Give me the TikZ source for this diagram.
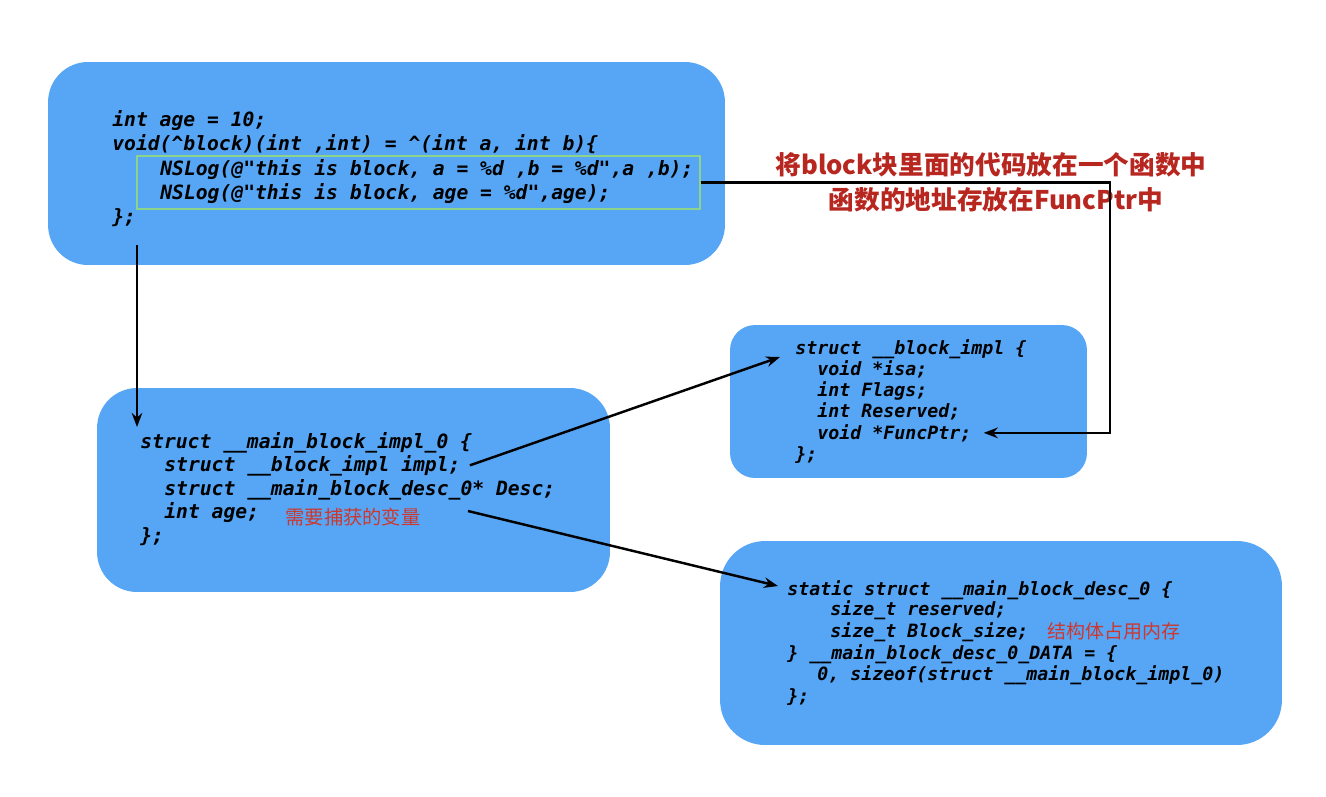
\documentclass[tikz,border=0pt]{standalone}
\usepackage{fontspec}
\usepackage{tikz}
\usetikzlibrary{arrows.meta}

\newfontfamily\codefont{DejaVu Sans Mono Bold Oblique}
\newfontfamily\cjk{Noto Sans CJK SC}

\definecolor{boxblue}{RGB}{86,166,245}
\definecolor{framegreen}{RGB}{140,212,140}
\definecolor{titlered}{RGB}{184,38,32}
\definecolor{notered}{RGB}{205,55,45}

\tikzset{
  blockbox/.style={fill=boxblue, inner sep=0pt},
  code/.style={anchor=base west, inner sep=0pt, font=\codefont\fontsize{11.2}{13}\selectfont},
  smallcode/.style={code, font=\codefont\fontsize{10.4}{12}\selectfont},
  title/.style={text=titlered, font=\cjk\bfseries\fontsize{14.6}{17}\selectfont},
  note/.style={anchor=base west, inner sep=0pt, text=notered},
  link/.style={->, line width=1.4pt, black}
}

\begin{document}
\begin{tikzpicture}[x=0.02cm,y=-0.02cm,>={Stealth[length=8pt,width=6pt]}]
        \useasboundingbox[fill=white] (0,0) rectangle (1326,796);

        % the four blue blocks
        \node[blockbox, rounded corners=0.8cm, minimum width=13.54cm, minimum height=4.06cm] (topbox) at (386.5,163.5) {};
        \node[blockbox, rounded corners=0.8cm, minimum width=10.26cm, minimum height=4.08cm] (midbox) at (353.5,490) {};
        \node[blockbox, rounded corners=0.5cm, minimum width=7.14cm, minimum height=3.06cm] (implbox) at (908.5,401.5) {};
        \node[blockbox, rounded corners=0.9cm, minimum width=11.24cm, minimum height=4.08cm] (descbox) at (1001,643) {};

        \node[draw=framegreen, line width=0.9pt, minimum width=11.26cm, minimum height=1.06cm] (green) at (418.5,182.5) {};

        % block source
        \node[code] (top1) at (112,126) {int age = 10;};
        \node[code] (top2) at (112,150) {void(\textasciicircum block)(int ,int) = \textasciicircum(int a, int b)\{};
        \node[code] (top3) at (160,175) {NSLog(@"this is block, a = \%d ,b = \%d",a ,b);};
        \node[code] (top4) at (160,199) {NSLog(@"this is block, age = \%d",age);};
        \node[code] (top5) at (112,223) {\};};

        % __main_block_impl_0
        \node[code] (mid1) at (140,448) {struct \_\_main\_block\_impl\_0 \{};
        \node[code] (mid2) at (164,471) {struct \_\_block\_impl impl;};
        \node[code] (mid3) at (164,495) {struct \_\_main\_block\_desc\_0* Desc;};
        \node[code] (mid4) at (164,518) {int age;};
        \node[code] (mid5) at (140,542) {\};};
        \node[note, font=\cjk\fontsize{11}{13}\selectfont] (capnote) at (285,524) {需要捕获的变量};

        % __block_impl
        \node[smallcode] (impl1) at (795,354) {struct \_\_block\_impl \{};
        \node[smallcode] (impl2) at (817,375) {void *isa;};
        \node[smallcode] (impl3) at (817,396) {int Flags;};
        \node[smallcode] (impl4) at (817,417) {int Reserved;};
        \node[smallcode] (impl5) at (817,439) {void *FuncPtr;};
        \node[smallcode] (impl6) at (795,460) {\};};

        % __main_block_desc_0
        \node[smallcode] (desc1) at (787,595) {static struct \_\_main\_block\_desc\_0 \{};
        \node[smallcode] (desc2) at (830,615) {size\_t reserved;};
        \node[smallcode] (desc3) at (830,637) {size\_t Block\_size;};
        \node[smallcode] (desc4) at (787,659) {\} \_\_main\_block\_desc\_0\_DATA = \{};
        \node[smallcode] (desc5) at (817,680) {0, sizeof(struct \_\_main\_block\_impl\_0)};
        \node[smallcode] (desc6) at (787,702) {\};};
        \node[note, font=\cjk\fontsize{10.8}{12}\selectfont] (sizenote) at (1047,638) {结构体占用内存};

        % remark on the right
        \node[title] (title1) at (991,165) {将block块里面的代码放在一个函数中};
        \node[title] (title2) at (996,200) {函数的地址存放在FuncPtr中};

        \coordinate (downfrom) at (137,245);
        \coordinate (downto)   at (137,427);
        \coordinate (implin)   at (780,357);
        \coordinate (descfrom) at (468,511);
        \coordinate (descin)   at (778,586);
        \coordinate (funcbend) at (1110,182.5);

        \path (downfrom) edge[link] (downto)
              ([xshift=0.18cm]mid2.east) edge[link] (implin)
              (descfrom) edge[link] (descin);
        \draw[link] (green.east) -- (funcbend) |- ([xshift=0.24cm]impl5.east);
\end{tikzpicture}
\end{document}
